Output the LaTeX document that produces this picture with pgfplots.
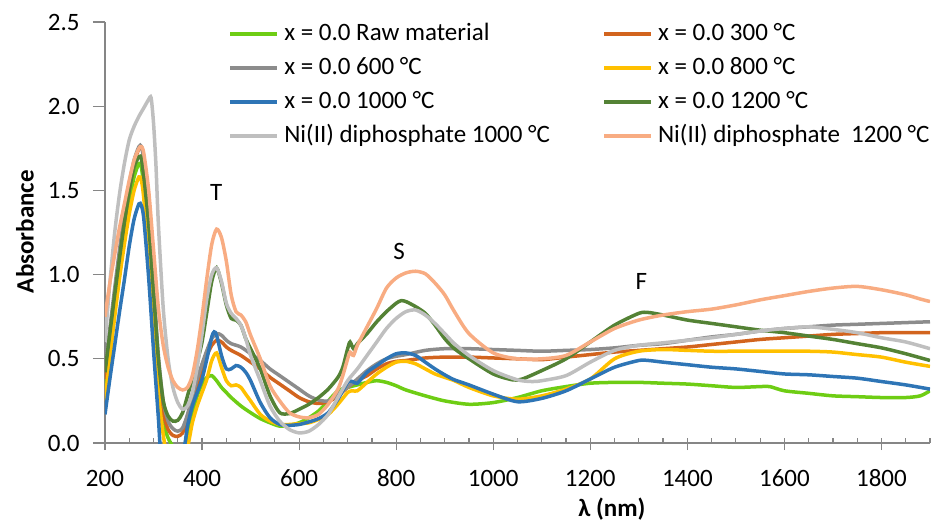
\documentclass[border=0pt]{standalone}
\usepackage{fontspec}
\setmainfont{Carlito}
\usepackage{pgfplots}
\pgfplotsset{compat=1.18}
\definecolor{cLgreen}{RGB}{110,205,20}
\definecolor{cOrange}{RGB}{210,100,30}
\definecolor{cGray}{RGB}{140,140,140}
\definecolor{cYellow}{RGB}{255,192,0}
\definecolor{cBlue}{RGB}{46,117,182}
\definecolor{cDgreen}{RGB}{84,130,53}
\definecolor{cLgray}{RGB}{191,191,191}
\definecolor{cPeach}{RGB}{248,172,130}
\definecolor{axisgray}{RGB}{134,134,134}
\begin{document}
\fontsize{12.5}{15}\selectfont
\begin{tikzpicture}
\useasboundingbox (-52.5pt,-41pt) rectangle (416pt,221.5pt);
\begin{axis}[
  scale only axis, width=412.5pt, height=210.5pt,
  at={(0,0)}, anchor=south west,
  xmin=200, xmax=1900, ymin=0, ymax=2.5,
  axis x line=bottom, axis y line=left,
  axis line style={-, draw=axisgray, line width=0.6pt},
  xtick={200,400,...,1800}, minor xtick={200,250,...,1900},
  ytick={0,0.5,...,2.5},
  tick align=inside, major tick length=6pt, minor tick length=2.5pt,
  tick style={draw=axisgray, line width=0.6pt},
  every major x tick/.append style={yshift=-3.5pt},
  every major y tick/.append style={xshift=-6pt},
  /pgf/number format/assume math mode=true,
  xticklabel style={anchor=base, yshift=-21.5pt, inner sep=0pt, /pgf/number format/1000 sep={}},
  yticklabel style={anchor=east, xshift=-12.5pt, inner sep=0pt, /pgf/number format/.cd, fixed, fixed zerofill, precision=1},
  xlabel={\textbf{λ (nm)}},
  xlabel style={at={(axis description cs:0.6145,-0.158)}, anchor=center, inner sep=0pt},
  ylabel={\textbf{Absorbance}},
  ylabel style={at={(axis description cs:-0.097,0.502)}, anchor=center, rotate=0, inner sep=0pt},
  legend columns=2, legend cell align=left,
  legend style={at={(0.149,0.998)}, anchor=north west, draw=none, fill=none, inner sep=0pt,
    nodes={inner sep=0pt, text height=8.5pt, text depth=2.5pt},
    row sep=6pt,
    /tikz/every odd column/.append style={column sep=2.5pt},
    /tikz/every even column/.append style={column sep=26pt}},
  legend image code/.code={\draw[#1, line width=2pt] (0pt,0pt) -- (23.5pt,0pt);},
  every axis plot/.append style={line width=1.75pt, mark=none, smooth, tension=0.45},
]
% x = 0.0 Raw material
\addplot[color=cLgreen] coordinates {
(200,0.33)(210,0.55)(220,0.78)(230,1.00)(240,1.22)(250,1.43)(260,1.58)(270,1.66)(275,1.64)(280,1.50)(290,1.10)(300,0.65)(310,0.30)(320,0.12)(330,0.03)(340,-0.02)(350,-0.06)(360,-0.06)(370,0.05)(380,0.18)(390,0.28)(400,0.35)(410,0.39)(420,0.40)(430,0.37)(440,0.33)(450,0.30)(460,0.27)(480,0.22)(500,0.18)(520,0.145)(540,0.12)(560,0.10)(580,0.105)(600,0.12)(620,0.15)(640,0.19)(660,0.25)(680,0.31)(700,0.33)(720,0.345)(740,0.36)(760,0.37)(780,0.36)(800,0.34)(820,0.315)(860,0.28)(900,0.25)(950,0.23)(1000,0.24)(1050,0.27)(1100,0.31)(1150,0.335)(1200,0.355)(1250,0.36)(1300,0.36)(1350,0.355)(1400,0.35)(1450,0.34)(1500,0.33)(1550,0.335)(1570,0.335)(1600,0.31)(1650,0.295)(1700,0.28)(1750,0.275)(1800,0.27)(1850,0.27)(1880,0.28)(1900,0.31)};
\addlegendentry{x = 0.0 Raw material}
% x = 0.0 300 C
\addplot[color=cOrange] coordinates {
(200,0.38)(210,0.60)(220,0.85)(230,1.08)(240,1.30)(250,1.50)(260,1.66)(270,1.75)(275,1.76)(280,1.68)(290,1.35)(300,0.90)(310,0.45)(320,0.18)(330,0.08)(340,0.045)(350,0.04)(360,0.06)(370,0.14)(380,0.25)(390,0.35)(400,0.44)(410,0.52)(420,0.58)(430,0.61)(440,0.60)(450,0.57)(460,0.55)(480,0.52)(500,0.48)(520,0.44)(540,0.39)(560,0.35)(580,0.31)(600,0.27)(620,0.245)(640,0.235)(660,0.245)(680,0.28)(700,0.33)(720,0.37)(740,0.40)(760,0.44)(780,0.47)(800,0.485)(820,0.49)(860,0.505)(900,0.51)(950,0.51)(1000,0.505)(1050,0.50)(1100,0.495)(1150,0.51)(1200,0.525)(1250,0.54)(1300,0.55)(1350,0.56)(1400,0.57)(1450,0.585)(1500,0.60)(1550,0.615)(1600,0.625)(1650,0.635)(1700,0.645)(1750,0.65)(1800,0.655)(1850,0.655)(1900,0.655)};
\addlegendentry{x = 0.0 300 °C}
% x = 0.0 600 C
\addplot[color=cGray] coordinates {
(200,0.45)(210,0.68)(220,0.92)(230,1.15)(240,1.36)(250,1.54)(260,1.68)(270,1.76)(275,1.76)(280,1.68)(290,1.38)(300,0.95)(310,0.52)(320,0.25)(330,0.13)(340,0.085)(350,0.07)(360,0.09)(370,0.17)(380,0.28)(390,0.38)(400,0.47)(410,0.55)(420,0.62)(430,0.65)(440,0.64)(450,0.61)(460,0.59)(480,0.57)(500,0.53)(520,0.49)(540,0.44)(560,0.40)(580,0.36)(600,0.32)(620,0.28)(640,0.255)(660,0.25)(680,0.29)(700,0.33)(720,0.38)(740,0.43)(760,0.47)(780,0.50)(800,0.515)(820,0.525)(860,0.55)(900,0.56)(950,0.56)(1000,0.555)(1050,0.55)(1100,0.545)(1150,0.55)(1200,0.555)(1250,0.565)(1300,0.58)(1350,0.59)(1400,0.61)(1450,0.63)(1500,0.645)(1550,0.665)(1600,0.68)(1650,0.69)(1700,0.70)(1750,0.705)(1800,0.71)(1850,0.715)(1900,0.72)};
\addlegendentry{x = 0.0 600 °C}
% x = 0.0 800 C
\addplot[color=cYellow] coordinates {
(200,0.25)(210,0.50)(220,0.75)(230,0.98)(240,1.18)(250,1.36)(260,1.50)(270,1.58)(275,1.56)(280,1.45)(290,1.10)(300,0.70)(310,0.30)(320,0.05)(330,-0.10)(350,-0.15)(365,-0.05)(372,0.0)(380,0.12)(390,0.22)(400,0.30)(410,0.38)(420,0.49)(430,0.535)(440,0.45)(450,0.37)(460,0.34)(470,0.345)(480,0.33)(490,0.29)(500,0.25)(520,0.17)(540,0.13)(560,0.11)(580,0.11)(600,0.115)(620,0.12)(640,0.14)(660,0.17)(680,0.23)(700,0.30)(710,0.31)(720,0.31)(740,0.36)(760,0.41)(780,0.45)(800,0.48)(820,0.485)(840,0.47)(860,0.44)(880,0.41)(900,0.39)(920,0.37)(950,0.33)(1000,0.28)(1050,0.26)(1100,0.28)(1150,0.32)(1200,0.38)(1250,0.50)(1300,0.545)(1350,0.555)(1400,0.55)(1450,0.545)(1500,0.545)(1550,0.545)(1600,0.545)(1650,0.545)(1700,0.54)(1750,0.525)(1800,0.51)(1850,0.48)(1900,0.455)};
\addlegendentry{x = 0.0 800 °C}
% x = 0.0 1000 C
\addplot[color=cBlue] coordinates {
(200,0.17)(210,0.38)(220,0.58)(230,0.78)(240,0.97)(250,1.17)(260,1.33)(270,1.42)(275,1.41)(280,1.33)(290,0.98)(300,0.55)(310,0.15)(315,-0.05)(330,-0.20)(350,-0.20)(360,-0.05)(365,0.0)(370,0.10)(380,0.22)(390,0.30)(400,0.38)(410,0.50)(420,0.63)(425,0.66)(430,0.64)(440,0.52)(450,0.44)(460,0.44)(470,0.46)(480,0.45)(490,0.42)(500,0.37)(520,0.24)(540,0.15)(560,0.11)(580,0.105)(600,0.11)(620,0.125)(640,0.145)(660,0.18)(680,0.26)(700,0.36)(710,0.365)(720,0.355)(740,0.42)(760,0.46)(780,0.50)(800,0.53)(820,0.535)(840,0.52)(860,0.48)(880,0.44)(900,0.405)(920,0.375)(950,0.345)(1000,0.29)(1050,0.245)(1100,0.265)(1150,0.31)(1200,0.38)(1250,0.45)(1300,0.49)(1320,0.49)(1350,0.48)(1400,0.465)(1450,0.45)(1500,0.44)(1550,0.425)(1600,0.41)(1650,0.405)(1700,0.395)(1750,0.385)(1800,0.365)(1850,0.345)(1900,0.32)};
\addlegendentry{x = 0.0 1000 °C}
% x = 0.0 1200 C
\addplot[color=cDgreen] coordinates {
(200,0.42)(210,0.65)(220,0.88)(230,1.10)(240,1.31)(250,1.50)(260,1.64)(270,1.70)(275,1.69)(280,1.58)(290,1.30)(300,0.90)(310,0.50)(320,0.25)(330,0.16)(340,0.13)(350,0.135)(360,0.18)(370,0.28)(380,0.38)(390,0.48)(400,0.60)(410,0.78)(420,0.96)(430,1.04)(440,0.95)(450,0.82)(460,0.74)(470,0.73)(480,0.70)(490,0.62)(500,0.56)(520,0.44)(540,0.28)(560,0.18)(580,0.175)(600,0.20)(620,0.23)(640,0.27)(660,0.32)(680,0.39)(690,0.45)(700,0.56)(705,0.60)(712,0.56)(720,0.59)(740,0.65)(760,0.72)(780,0.78)(800,0.83)(810,0.845)(820,0.84)(840,0.81)(860,0.77)(880,0.70)(900,0.62)(920,0.56)(950,0.50)(1000,0.41)(1040,0.375)(1060,0.38)(1100,0.43)(1150,0.50)(1200,0.60)(1250,0.70)(1300,0.77)(1320,0.775)(1350,0.76)(1400,0.73)(1450,0.71)(1500,0.69)(1550,0.67)(1600,0.655)(1650,0.635)(1700,0.615)(1750,0.59)(1800,0.565)(1850,0.53)(1900,0.49)};
\addlegendentry{x = 0.0 1200 °C}
% Ni(II) diphosphate 1000 C
\addplot[color=cLgray] coordinates {
(200,0.60)(210,0.95)(220,1.25)(230,1.48)(240,1.66)(250,1.80)(260,1.88)(270,1.94)(280,1.99)(290,2.04)(295,2.05)(300,1.90)(305,1.65)(310,1.30)(320,0.80)(330,0.50)(340,0.33)(350,0.24)(360,0.20)(370,0.22)(380,0.30)(390,0.45)(400,0.65)(410,0.86)(420,1.00)(430,1.04)(440,0.96)(450,0.83)(460,0.77)(470,0.74)(480,0.70)(490,0.62)(500,0.52)(520,0.37)(540,0.22)(560,0.13)(580,0.08)(600,0.06)(620,0.07)(640,0.11)(660,0.17)(680,0.27)(700,0.37)(720,0.44)(740,0.52)(760,0.60)(780,0.68)(800,0.74)(820,0.78)(840,0.79)(860,0.76)(880,0.71)(900,0.65)(920,0.59)(950,0.52)(1000,0.43)(1050,0.375)(1080,0.365)(1100,0.37)(1150,0.40)(1200,0.48)(1250,0.55)(1300,0.58)(1350,0.595)(1400,0.61)(1450,0.625)(1500,0.645)(1550,0.665)(1600,0.68)(1650,0.69)(1700,0.675)(1750,0.655)(1800,0.625)(1850,0.60)(1900,0.56)};
\addlegendentry{Ni(II) diphosphate 1000 °C}
% Ni(II) diphosphate 1200 C
\addplot[color=cPeach] coordinates {
(200,0.75)(210,0.95)(220,1.12)(230,1.28)(240,1.42)(250,1.56)(260,1.68)(270,1.75)(275,1.76)(280,1.72)(290,1.50)(300,1.15)(310,0.80)(320,0.58)(330,0.45)(340,0.37)(350,0.33)(360,0.315)(370,0.33)(380,0.40)(390,0.55)(400,0.75)(410,0.98)(420,1.18)(430,1.27)(440,1.22)(450,1.08)(460,0.88)(470,0.78)(480,0.76)(490,0.72)(500,0.64)(520,0.50)(540,0.34)(560,0.25)(580,0.18)(600,0.155)(620,0.15)(640,0.17)(660,0.23)(680,0.32)(690,0.40)(700,0.50)(705,0.54)(712,0.52)(720,0.58)(740,0.69)(760,0.80)(780,0.92)(800,0.98)(820,1.01)(840,1.02)(860,1.005)(880,0.95)(900,0.88)(920,0.78)(950,0.65)(1000,0.535)(1050,0.50)(1100,0.50)(1150,0.52)(1200,0.60)(1250,0.68)(1300,0.73)(1350,0.76)(1400,0.78)(1450,0.795)(1500,0.82)(1550,0.85)(1600,0.875)(1650,0.90)(1700,0.92)(1750,0.93)(1800,0.91)(1850,0.88)(1880,0.855)(1900,0.84)};
\addlegendentry{Ni(II) diphosphate\ \ 1200 °C}
\node at (axis cs:429,1.49) {T};
\node at (axis cs:806,1.14) {S};
\node at (axis cs:1305,0.96) {F};
\end{axis}
\end{tikzpicture}
\end{document}
